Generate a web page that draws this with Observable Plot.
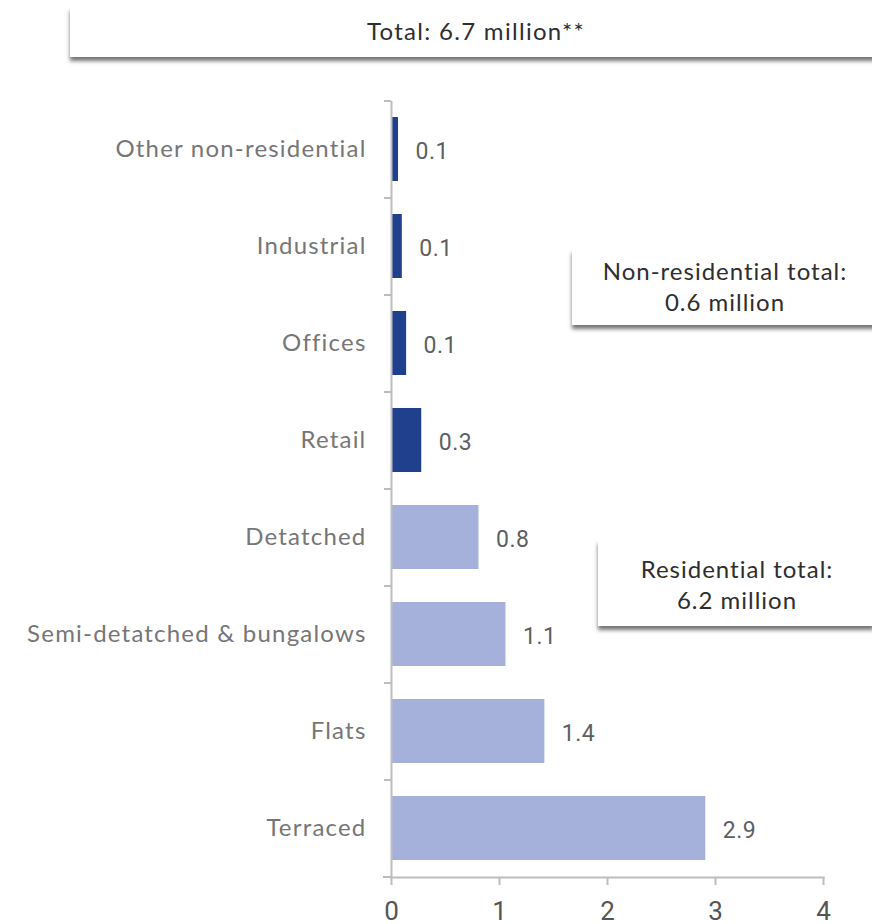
<!DOCTYPE html>
<html>
<head>
<meta charset="utf-8">
<script src="https://cdn.jsdelivr.net/npm/d3@7"></script>
<script src="https://cdn.jsdelivr.net/npm/@observablehq/plot@0.6"></script>
<style>
  html, body { margin: 0; padding: 0; background: #fff; overflow: hidden; }
  #wrap { position: relative; width: 872px; height: 924px; overflow: hidden; }
  .box { position: absolute; background: #fff; box-shadow: -1px 5px 4px -1px rgba(0,0,0,0.55);
         font-family: Lato, "Open Sans", sans-serif; color: #2e2e2e; text-align: center; font-size: 24px; letter-spacing: 1px; line-height: 31px; }
  #chart { position: absolute; left: 0; top: 0; }
</style>
</head>
<body>
<div id="wrap">
  <div id="chart"></div>
  <div class="box" style="left:70px; top:5px; width:812px; height:52px; line-height:52px; letter-spacing:1.3px;">Total: 6.7 million**</div>
  <div class="box" style="left:572px; top:247px; width:306px; height:78px; padding-top:8px; box-sizing:border-box;">Non-residential total:<br>0.6 million</div>
  <div class="box" style="left:598px; top:538px; width:278px; height:88px; padding-top:15px; box-sizing:border-box;">Residential total:<br>6.2 million</div>
</div>
<script>
const categories = ["Other non-residential", "Industrial", "Offices", "Retail", "Detatched", "Semi-detatched & bungalows", "Flats", "Terraced"];
const values = [0.065, 0.1, 0.14, 0.28, 0.81, 1.06, 1.42, 2.91];
const valueLabels = ["0.1", "0.1", "0.1", "0.3", "0.8", "1.1", "1.4", "2.9"];
const groups = ["Non-residential", "Non-residential", "Non-residential", "Non-residential", "Residential", "Residential", "Residential", "Residential"];
const groupNames = ["Non-residential", "Residential"];
const groupColors = ["#203F8C", "#A5B1DA"];
const xTicks = [0, 1, 2, 3, 4];

const data = categories.map((c, i) => ({category: c, value: values[i], label: valueLabels[i], group: groups[i]}));

const W = 872, H = 924, mL = 391, mR = 49, mT = 101, mB = 47;
const step = (H - mT - mB) / categories.length;
const pad = 0.34;
const axisColor = "#bdbdbd";

const chart = Plot.plot({
  width: W, height: H,
  marginLeft: mL, marginRight: mR, marginTop: mT, marginBottom: mB,
  style: {background: "transparent", overflow: "visible"},
  x: {domain: [0, 4], ticks: xTicks, tickFormat: "d", label: null},
  y: {domain: categories, paddingInner: pad, paddingOuter: pad / 2, label: null},
  color: {domain: groupNames, range: groupColors},
  marks: [
    Plot.barX(data, {x: "value", y: "category", fill: "group"}),
    Plot.text(data, {x: "value", y: "category", text: "label", textAnchor: "start", dx: 17, dy: 2,
      fontSize: 23, fill: "#5f5f5f", fontFamily: "Roboto"}),
    Plot.axisY({tickSize: 0, tickPadding: 25, fontSize: 24, fill: "#767676", fontFamily: "Lato", label: null}),
    Plot.axisY({tickSize: 7, tickFormat: () => "", dy: -step / 2, stroke: axisColor, strokeWidth: 2, label: null}),
    Plot.axisY([categories[categories.length - 1]], {tickSize: 8, tickFormat: () => "", dy: step / 2, stroke: axisColor, strokeWidth: 2, label: null}),
    Plot.ruleX([0], {stroke: axisColor, strokeWidth: 2}),
    Plot.frame({anchor: "bottom", stroke: axisColor, strokeWidth: 2}),
    Plot.axisX({ticks: xTicks, tickFormat: "d", tickSize: 8, tickPadding: 16, fontSize: 26, fill: "#555", fontFamily: "Roboto", stroke: axisColor, strokeWidth: 2, label: null})
  ]
});
d3.select(chart).selectAll('g[aria-label="y-axis tick label"]').attr("letter-spacing", "1.2px");
d3.select(chart).selectAll('g[aria-label="text"]').attr("letter-spacing", "0.5px");
document.getElementById("chart").appendChild(chart);
</script>
</body>
</html>
